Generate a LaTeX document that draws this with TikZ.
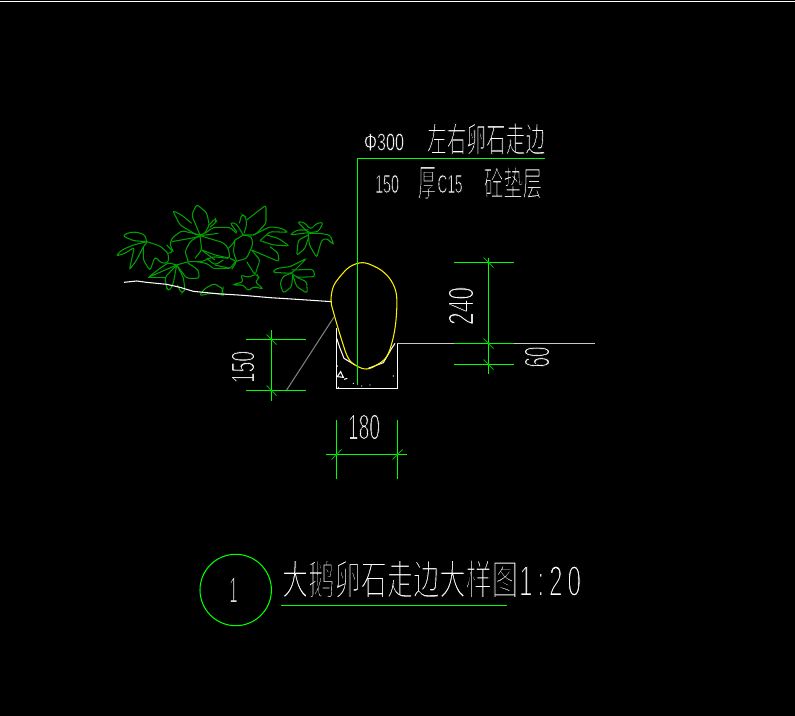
\documentclass[tikz,border=0pt]{standalone}
\usepackage{graphicx}
\usepackage{fontspec}
\setmainfont{Liberation Sans}
\newfontfamily\cjk{Noto Sans CJK SC}
\definecolor{cadgreen}{RGB}{0,255,0}
\definecolor{leafgreen}{RGB}{0,160,0}
\definecolor{cadgray}{RGB}{128,128,128}
\definecolor{cadlight}{RGB}{200,200,200}
\newcommand{\sizedtext}[4]{\resizebox{\dimexpr 0.02cm*#1\relax}{\dimexpr 0.02cm*#2\relax}{\special{pdf:code 2 Tr 0 0 0 RG #3 w}#4\special{pdf:code 0 Tr}}}
\tikzset{
	dimline/.style={cadgreen,line width=0.7pt},
	dimtick/.style={cadgreen!70!black,line width=0.5pt},
	leaf/.style={leafgreen,line width=0.6pt,rounded corners=1.5pt},
	outline/.style={white,line width=0.6pt},
	cadtext/.style={white,inner sep=0pt,outer sep=0pt}
}
\begin{document}
\begin{tikzpicture}[x=0.02cm,y=-0.02cm]
	\fill[black] (0,0) rectangle (795,716);
	\useasboundingbox (0,0) rectangle (795,716);
	\draw[white,line width=0.6pt] (0,1.5) -- (795,1.5);

	% planting
	\begin{scope}[shift={(100,190)},scale=1/3]
	\draw[leaf] (140,155) -- (135,135) -- (110,126) -- (85,128) -- (68,138) -- (100,152) -- (140,155);
	\draw[leaf] (140,155) -- (100,165) -- (65,180) -- (48,198) -- (75,190) -- (103,172) -- (88,240) -- (110,210) -- (130,170) -- (140,158);
	\draw[leaf] (130,170) -- (130,210) -- (150,242) -- (165,200) -- (185,220) -- (205,218) -- (205,190) -- (180,168) -- (150,158) -- (140,155);
	\draw[leaf] (200,165) -- (220,185) -- (205,190);
	\draw[leaf] (300,135) -- (275,75) -- (290,43) -- (320,68) -- (328,105) -- (315,130) -- (300,135);
	\draw[leaf] (290,135) -- (240,105) -- (218,62) -- (245,75) -- (275,100);
	\draw[leaf] (300,135) -- (245,122) -- (215,145) -- (210,165) -- (220,185);
	\draw[leaf] (300,140) -- (215,155);
	\draw[leaf] (300,135) -- (270,155) -- (255,185) -- (265,215);
	\draw[leaf] (300,135) -- (305,180) -- (285,205);
	\draw[leaf] (300,137) -- (355,130);
	\draw[leaf] (300,137) -- (370,158) -- (385,175) -- (390,205) -- (345,195) -- (305,180);
	\draw[leaf] (315,130) -- (340,112) -- (390,112) -- (410,130);
	\draw[leaf] (328,105) -- (345,85) -- (350,95) -- (330,112);
	\draw[leaf] (430,135) -- (408,100) -- (390,98) -- (410,125);
	\draw[leaf] (418,100) -- (425,73) -- (437,80) -- (440,105) -- (432,130);
	\draw[leaf] (440,90) -- (498,45) -- (498,100) -- (465,135) -- (430,135);
	\draw[leaf] (430,135) -- (455,140) -- (458,165) -- (440,205) -- (405,215) -- (392,235) -- (340,235);
	\draw[leaf] (405,150) -- (430,135);
	\draw[leaf] (405,150) -- (400,185) -- (410,215);
	\draw[leaf] (385,175) -- (400,160) -- (405,150);
	\draw[leaf] (460,135) -- (510,110) -- (545,115) -- (565,127) -- (510,125) -- (480,152);
	\draw[leaf] (480,152) -- (520,165) -- (568,168) -- (535,145) -- (500,135);
	\draw[leaf] (510,170) -- (535,190) -- (537,215) -- (490,195) -- (455,180);
	\draw[leaf] (455,180) -- (480,210) -- (465,255) -- (440,215);
	\draw[leaf] (230,225) -- (145,262) -- (180,235) -- (205,218) -- (230,225);
	\draw[leaf] (230,225) -- (265,215) -- (305,215) -- (340,200) -- (385,205);
	\draw[leaf] (230,225) -- (195,262) -- (200,295) -- (208,303) -- (220,280) -- (230,225);
	\draw[leaf] (230,225) -- (250,262) -- (255,300) -- (245,310) -- (232,285);
	\draw[leaf] (230,225) -- (260,265) -- (298,265) -- (295,240) -- (262,218);
	\draw[leaf] (145,262) -- (195,262);
	\draw[leaf] (290,215) -- (320,220) -- (340,235);
	\draw[leaf] (320,205) -- (345,225) -- (370,210);
	\draw[leaf] (305,180) -- (345,210);
	\draw[leaf] (345,225) -- (390,235);
	\draw[leaf] (390,205) -- (410,215) -- (395,238);
	\draw[leaf] (298,317) -- (315,295) -- (345,280) -- (355,290) -- (370,295) -- (365,305) -- (375,318) -- (350,310) -- (330,310) -- cycle;
	\draw[leaf] (397,285) -- (430,275) -- (422,255) -- (445,262) -- (470,252) -- (478,265) -- (465,275) -- (490,297) -- (460,290) -- (445,303) -- (430,285) -- cycle;
	\draw[leaf] (625,128) -- (592,95) -- (612,97) -- (632,118) -- (650,100) -- (670,97) -- (655,125) -- cycle;
	\draw[leaf] (625,128) -- (570,135) -- (590,120) -- (625,120);
	\draw[leaf] (625,130) -- (660,130) -- (690,135) -- (702,165) -- (680,145) -- (665,150) -- (650,203) -- (628,165) -- (625,130);
	\draw[leaf] (625,135) -- (595,150) -- (590,197) -- (615,175) -- (625,145);
	\draw[leaf] (575,250) -- (620,205) -- (580,225) -- (570,230) -- (530,235) -- (517,247) -- cycle;
	\draw[leaf] (575,240) -- (640,238) -- (645,260) -- (590,262) -- (575,250);
	\draw[leaf] (575,250) -- (550,258) -- (540,280) -- (550,310) -- (575,290) -- (578,255);
	\draw[leaf] (578,255) -- (590,290) -- (622,310) -- (620,275) -- (590,262);
	% ground
	\draw[outline] (72,277) -- (110,273) -- (140,277) -- (170,280) -- (200,283) -- (240,292) -- (280,304) -- (350,311) -- (430,316) -- (510,323) -- (590,328) -- (695,335);
	\end{scope}

	% kerb and stone
	\begin{scope}[shift={(320,250)},scale=1/3]
	\draw[outline] (49.5,235) -- (49.5,415.5) -- (232.5,415.5) -- (232.5,280);
	\draw[outline] (50,265) -- (60,295) -- (72,325) -- (105,345);
	\draw[outline] (145,355) -- (190,338) -- (215,295) -- (225,280);
	\draw[outline] (52,380) -- (62,365) -- (70,382) -- cycle;
	\draw[outline] (72,388) -- (82,385);
	\foreach \x/\y in {52/348,100/400,125/408,150/405,220/378,55/412}
		\fill[white] (\x,\y) circle(2);
	\draw[yellow,line width=0.6pt] plot[smooth cycle,tension=0.6] coordinates {(128,38) (165,50) (195,70) (218,100) (230,140) (228,210) (218,270) (200,320) (170,345) (140,357) (110,348) (85,325) (65,270) (40,185) (33,150) (40,110) (60,80) (90,50)};
	\end{scope}
	\draw[cadgray,line width=0.6pt] (334,317) -- (286,391);
	\draw[cadlight,line width=0.6pt] (397,343.5) -- (595,343.5);

	% leader
	\coordinate (leadtop) at (357.5,158.5);
	\draw[cadgreen,line width=0.9pt] (357.5,385) -- (leadtop) -- (545,158.5);
	\node[cadtext] (dia) at (384,142) {\sizedtext{40}{17}{0.2}{Φ300}};
	\node[cadtext] (stonelab) at (486,139) {\sizedtext{118}{29}{0.35}{\cjk 左右卵石走边}};
	\node[cadtext] (thk) at (387,184) {\sizedtext{24}{18}{0.25}{150}};
	\node[cadtext] (houlab) at (427,183) {\sizedtext{18}{30}{0.35}{\cjk 厚}};
	\node[cadtext] (c15) at (450,184) {\sizedtext{25}{18}{0.25}{C15}};
	\node[cadtext] (padlab) at (513,183) {\sizedtext{58}{29}{0.35}{\cjk 砼垫层}};

	% dimensions
	\draw[dimline] (271.5,330) -- (271.5,400.7);
	\draw[dimline] (246,339.5) -- (306,339.5);
	\draw[dimline] (246,390.5) -- (306,390.5);
	\draw[dimline] (326,454.5) -- (406.7,454.5);
	\draw[dimline] (336.5,420) -- (336.5,479);
	\draw[dimline] (397.5,420) -- (397.5,479);
	\draw[dimline] (488.5,258) -- (488.5,374);
	\draw[dimline] (454,262.5) -- (514,262.5);
	\draw[dimline] (454,343.5) -- (514,343.5);
	\draw[dimline] (454,364.5) -- (514,364.5);
	\foreach \x/\y in {271.5/339.5,271.5/390.5,488.5/262.5,488.5/343.5,488.5/364.5}
		\draw[dimtick] (\x-5,\y-5) -- (\x+5,\y+5);
	\foreach \x/\y in {336.5/454.5,397.5/454.5}
		\draw[dimtick] (\x-5,\y+5) -- (\x+5,\y-5);
	\node[cadtext,rotate=90] (dimA) at (243,367) {\sizedtext{32}{23}{0.3}{150}};
	\node[cadtext] (dimB) at (364,427) {\sizedtext{32}{25}{0.3}{180}};
	\node[cadtext,rotate=90] (dimC) at (461,306) {\sizedtext{38}{25}{0.3}{240}};
	\node[cadtext,rotate=90] (dimD) at (537,357) {\sizedtext{21}{25}{0.3}{60}};

	% title
	\draw[cadgreen,line width=0.6pt] (235.7,590) circle(35.7);
	\node[cadtext] (detailno) at (233.5,590) {\sizedtext{8}{25}{0.3}{1}};
	\node[cadtext] (title) at (400,579) {\sizedtext{236}{35}{0.4}{\cjk 大鹅卵石走边大样图}};
	\node[cadtext] (ratio) at (550,581) {\sizedtext{62}{30}{0.35}{1\kern.2em:\kern.2em2\kern.2em0}};
	\draw[cadgreen,line width=0.8pt] (281,605.5) -- (507,605.5);
\end{tikzpicture}
\end{document}
